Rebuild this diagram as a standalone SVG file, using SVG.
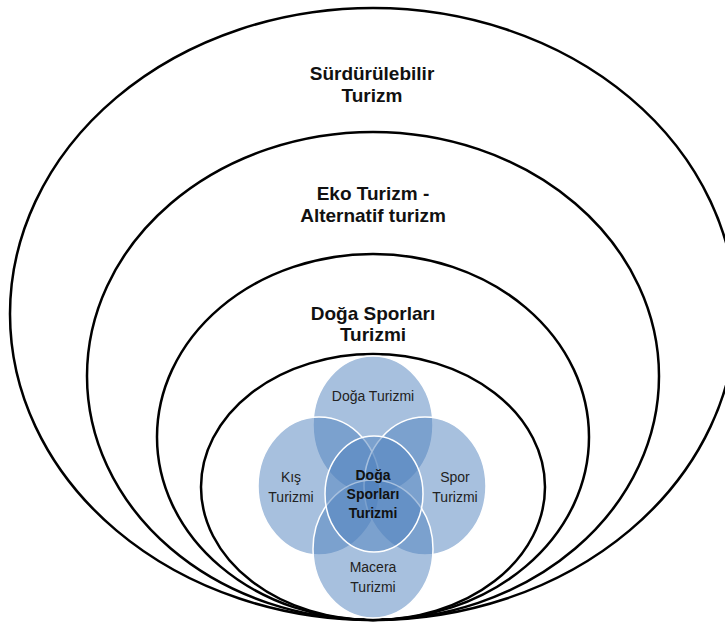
<svg xmlns="http://www.w3.org/2000/svg" width="725" height="624" viewBox="0 0 725 624">
<style>
.ring{fill:none;stroke:#000;stroke-width:2.5}
.blob{fill:#4f81bd;fill-opacity:0.5;stroke:#fff;stroke-width:1.5}
.h{font-family:"Liberation Sans",Arial,sans-serif;font-weight:bold;font-size:19px;fill:#111;text-anchor:middle}
.t{font-family:"Liberation Sans",Arial,sans-serif;font-size:14px;fill:#222;text-anchor:middle}
.tb{font-family:"Liberation Sans",Arial,sans-serif;font-size:14px;font-weight:bold;fill:#111;text-anchor:middle}
</style>
<rect width="725" height="624" fill="#fff"/>
<g id="surdurulebilir">
<ellipse class="ring" cx="373" cy="314" rx="363" ry="306"/>
<text class="h" x="372" y="80">Sürdürülebilir</text>
<text class="h" x="372" y="102">Turizm</text>
</g>
<g id="eko">
<ellipse class="ring" cx="373" cy="376" rx="286" ry="244"/>
<text class="h" x="373" y="200">Eko Turizm -</text>
<text class="h" x="373" y="222">Alternatif turizm</text>
</g>
<g id="doga-sporlari-outer">
<ellipse class="ring" cx="373" cy="437" rx="216" ry="183"/>
<text class="h" x="373" y="320">Doğa Sporları</text>
<text class="h" x="373" y="341">Turizmi</text>
</g>
<g id="inner">
<ellipse class="ring" cx="373" cy="487" rx="172" ry="133"/>
</g>
<g id="doga-turizmi">
<ellipse class="blob" cx="373" cy="425" rx="60" ry="69"/>
</g>
<g id="kis-turizmi">
<ellipse class="blob" cx="319" cy="486" rx="61" ry="69"/>
</g>
<g id="spor-turizmi">
<ellipse class="blob" cx="425" cy="486" rx="61" ry="69"/>
</g>
<g id="macera-turizmi">
<ellipse class="blob" cx="373" cy="549" rx="60" ry="69"/>
</g>
<g id="merkez">
<ellipse class="blob" cx="374" cy="494" rx="49" ry="58"/>
</g>
<g id="labels">
<text class="t" x="373" y="401">Doğa Turizmi</text>
<text class="t" x="291" y="482">Kış</text>
<text class="t" x="291" y="502">Turizmi</text>
<text class="t" x="455" y="482">Spor</text>
<text class="t" x="455" y="502">Turizmi</text>
<text class="t" x="373" y="572">Macera</text>
<text class="t" x="373" y="592">Turizmi</text>
<text class="tb" x="373" y="480">Doğa</text>
<text class="tb" x="373" y="499">Sporları</text>
<text class="tb" x="373" y="518">Turizmi</text>
</g>
</svg>
